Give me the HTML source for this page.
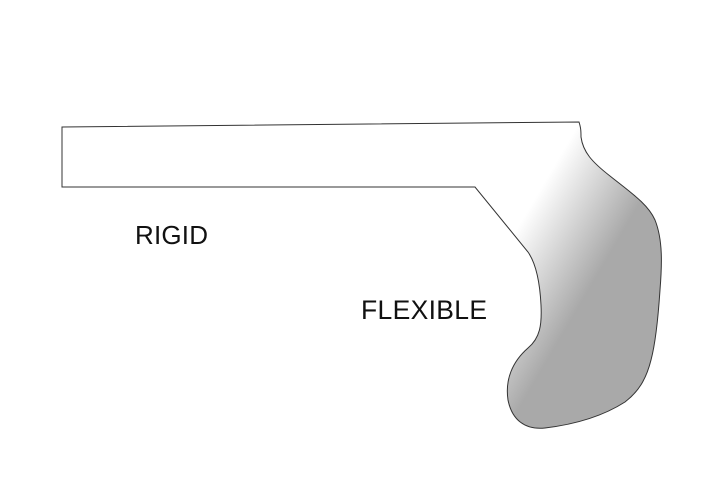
<!DOCTYPE html>
<html><head><style>body{margin:0;background:#fff;width:720px;height:494px;overflow:hidden}</style></head>
<body>
<svg width="720" height="494" viewBox="0 0 720 494" xmlns="http://www.w3.org/2000/svg">
<defs>
<linearGradient id="g" gradientUnits="userSpaceOnUse" x1="525" y1="215" x2="605" y2="262">
<stop offset="0" stop-color="#ffffff"/>
<stop offset="1" stop-color="#a9a9a9"/>
</linearGradient>
</defs>
<path d="M62,127 L579,122 C581,128 581,132 581,137 C583,152 592,162 610,176 C630,192 648,204 655,220 C663,240 662,265 660,290 C658,320 655,345 651,360 C646,380 638,392 625,402 C600,418 570,425 545,428 C525,430 512,420 508,400 C505,380 512,362 528,348 C540,338 542,325 541,305 C540,285 537,265 528,252 L475,187 L62,187 Z" fill="url(#g)" stroke="#333" stroke-width="1"/>
<text x="135" y="244" font-family="Liberation Sans, sans-serif" font-size="26" textLength="73" fill="#111">RIGID</text>
<text x="361" y="319" font-family="Liberation Sans, sans-serif" font-size="26.5" textLength="126" fill="#111">FLEXIBLE</text>
</svg>
</body></html>
